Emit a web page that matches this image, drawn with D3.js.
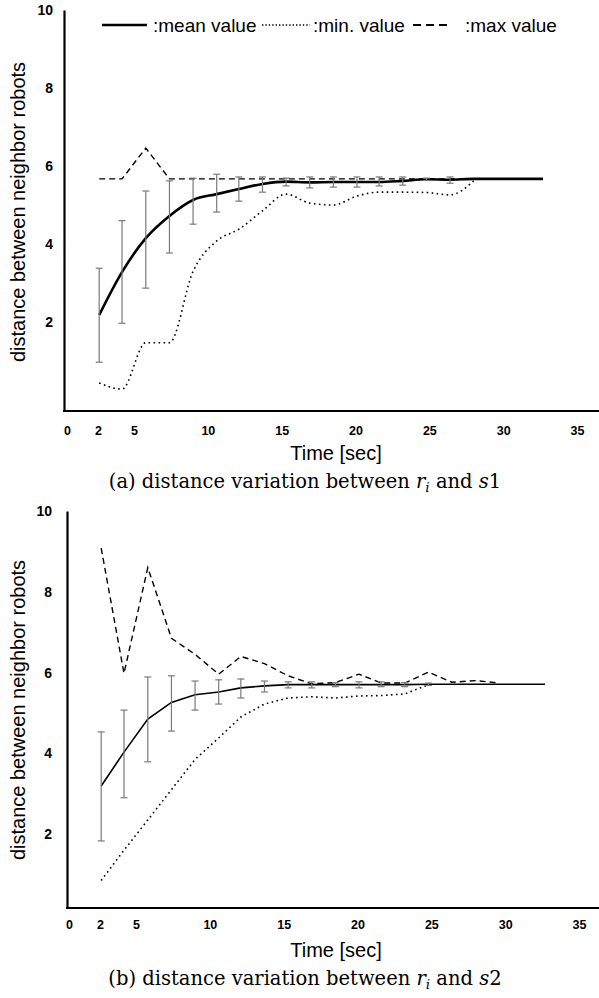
<!DOCTYPE html>
<html>
<head>
<meta charset="utf-8">
<script src="https://cdn.jsdelivr.net/npm/d3@7"></script>
<style>
  body { margin: 0; background: #fff; }
  svg text { font-family: "Liberation Sans", Arial, sans-serif; fill: #000; }
</style>
</head>
<body>
<div id="vis"></div>
<script>
////////////////////////////////////////
/////////////// Data ///////////////////
////////////////////////////////////////

// sample times [sec], shared by both panels
const times = [2.1, 4.0, 5.8, 7.4, 9.0, 10.6, 12.1, 13.7, 15.3, 16.9,
  18.5, 20.1, 21.6, 23.2, 24.8, 26.4, 28.0, 29.6, 31.2, 32.7];

const xTicks = [0, 2, 5, 10, 15, 20, 25, 30, 35];
const yTicks = [2, 4, 6, 8, 10];
const legendLabels = [":mean value", ":min. value", ":max value"];
const xTitle = "Time [sec]";
const yTitle = "distance between neighbor robots";

// (a) r_i and s1
const meanA = [2.18, 3.28, 4.15, 4.72, 5.13, 5.28, 5.41, 5.54, 5.60, 5.58,
  5.59, 5.59, 5.59, 5.62, 5.66, 5.65, 5.67, 5.67, 5.67, 5.67];
const errLoA = [0.97, 1.97, 2.87, 3.77, 4.51, 4.82, 5.10, 5.33, 5.49, 5.44,
  5.46, 5.46, 5.49, 5.51, 5.63, 5.56];
const errHiA = [3.38, 4.60, 5.36, 5.62, 5.69, 5.79, 5.72, 5.72, 5.69, 5.72,
  5.72, 5.72, 5.72, 5.72, 5.69, 5.72];
const minA = [0.44, 0.28, 1.47, 1.47, 3.30, 4.08, 4.38, 4.85, 5.28, 5.05,
  5.00, 5.23, 5.33, 5.33, 5.32, 5.26, 5.62];
const maxA = [5.67, 5.67, 6.46, 5.67, 5.67, 5.67, 5.67, 5.67, 5.67, 5.67,
  5.67, 5.67, 5.67, 5.67, 5.67, 5.67, 5.67];

// (b) r_i and s2
const meanB = [3.19, 4.03, 4.85, 5.26, 5.45, 5.52, 5.62, 5.67, 5.70, 5.70,
  5.70, 5.70, 5.70, 5.70, 5.71, 5.71, 5.71, 5.71, 5.71, 5.71];
const errLoB = [1.83, 2.90, 3.79, 4.55, 5.07, 5.22, 5.37, 5.52, 5.62, 5.62,
  5.65, 5.62, 5.65, 5.65, 5.68];
const errHiB = [4.53, 5.07, 5.89, 5.92, 5.79, 5.82, 5.84, 5.79, 5.77, 5.77,
  5.75, 5.77, 5.77, 5.75, 5.74];
const minB = [0.85, 1.60, 2.35, 3.10, 3.85, 4.38, 4.90, 5.22, 5.37, 5.40,
  5.37, 5.42, 5.43, 5.47, 5.70];
const maxB = [9.08, 5.98, 8.60, 6.85, 6.45, 5.96, 6.40, 6.22, 5.92, 5.72,
  5.75, 5.96, 5.74, 5.74, 6.01, 5.76, 5.80, 5.74];

////////////////////////////////////////
////////////// SVG Setup ///////////////
////////////////////////////////////////

const width = 599;
const height = 998;

const svg = d3
  .select("#vis")
  .append("svg")
  .attr("width", width)
  .attr("height", height)
  .attr("viewBox", `0 0 ${width} ${height}`);

svg.append("rect").attr("width", width).attr("height", height).attr("fill", "#fff");

////////////////////////////////////////
////////////// Panel ///////////////////
////////////////////////////////////////

function panel(series, options) {
  const g = svg.append("g");

  // tick labels were placed unevenly near the origin, so a piecewise scale
  const x = d3
    .scaleLinear()
    .domain([0, 2, 5, 35])
    .range(options.xRange);

  const y = d3
    .scaleLinear()
    .domain(options.yDomain)
    .range(options.yRange);

  const pts = (vals) => vals.map((v, i) => [times[i], v]);

  const line = (curve) =>
    d3
      .line()
      .x((d) => x(d[0]))
      .y((d) => y(d[1]))
      .curve(curve);

  // y axis
  const yAxis = g
    .append("g")
    .attr("transform", `translate(${options.axisX},0)`)
    .call(d3.axisLeft(y).tickValues(yTicks).tickSize(0).tickSizeOuter(0).tickPadding(options.yPad));
  yAxis.select(".domain").attr("stroke", "#000").attr("stroke-width", 2.2);
  yAxis
    .selectAll(".tick text")
    .style("font-size", "14px")
    .style("font-weight", "bold");

  // x axis: labels from the axis, baseline drawn to the right edge
  const xAxis = g
    .append("g")
    .attr("transform", `translate(0,${options.axisY})`)
    .call(d3.axisBottom(x).tickValues(xTicks).tickSize(0).tickPadding(options.xPad));
  xAxis.select(".domain").remove();
  xAxis
    .selectAll(".tick text")
    .style("font-size", "12.5px")
    .style("font-weight", "bold");

  g.append("line")
    .attr("x1", options.axisX - 1)
    .attr("x2", width)
    .attr("y1", options.axisY)
    .attr("y2", options.axisY)
    .attr("stroke", "#000")
    .attr("stroke-width", 2.2);

  // series
  g.append("path")
    .attr("d", line(options.minCurve)(pts(series.min)))
    .attr("fill", "none")
    .attr("stroke", "#000")
    .attr("stroke-width", 1.6)
    .attr("stroke-dasharray", "1.6,3.4");

  g.append("path")
    .attr("d", line(options.maxCurve)(pts(series.max)))
    .attr("fill", "none")
    .attr("stroke", "#000")
    .attr("stroke-width", 1.4)
    .attr("stroke-dasharray", "6,4");

  g.append("path")
    .attr("d", line(options.meanCurve)(pts(series.mean)))
    .attr("fill", "none")
    .attr("stroke", "#000")
    .attr("stroke-width", options.meanWidth);

  // error bars
  const bars = g
    .selectAll(".bar")
    .data(series.lo.map((lo, i) => ({ t: times[i], lo: lo, hi: series.hi[i] })))
    .join("g")
    .attr("class", "bar")
    .attr("stroke", "#7a7a7a")
    .attr("stroke-width", 1.2);

  bars
    .append("line")
    .attr("x1", (d) => x(d.t))
    .attr("x2", (d) => x(d.t))
    .attr("y1", (d) => y(d.lo))
    .attr("y2", (d) => y(d.hi));

  ["lo", "hi"].forEach((k) => {
    bars
      .append("line")
      .attr("x1", (d) => x(d.t) - 3.5)
      .attr("x2", (d) => x(d.t) + 3.5)
      .attr("y1", (d) => y(d[k]))
      .attr("y2", (d) => y(d[k]));
  });

  // titles
  g.append("text")
    .attr("x", 336)
    .attr("y", options.axisY + 49)
    .attr("text-anchor", "middle")
    .style("font-size", "20px")
    .text(xTitle);

  g.append("text")
    .attr("transform", `translate(18,${options.yTitleY}) rotate(-90)`)
    .attr("text-anchor", "middle")
    .attr("dy", "0.35em")
    .style("font-size", "20px")
    .text(yTitle);

  // caption
  const cap = g
    .append("text")
    .attr("x", 305)
    .attr("y", options.axisY + 77)
    .attr("text-anchor", "middle")
    .style("font-family", "'DejaVu Serif', serif")
    .style("font-size", "19.5px");
  cap.append("tspan").text(options.caption + " distance variation between ");
  cap.append("tspan").style("font-style", "italic").text("r");
  cap.append("tspan").style("font-style", "italic").style("font-size", "13.5px").attr("dy", 3.5).text("i");
  cap.append("tspan").attr("dy", -3.5).text(" and ");
  cap.append("tspan").style("font-style", "italic").text("s");
  cap.append("tspan").text(options.sensor);

  return { g: g, x: x, y: y };
}

const a = panel(
  { mean: meanA, lo: errLoA, hi: errHiA, min: minA, max: maxA },
  {
    xRange: [67, 98, 134, 577],
    yDomain: [-0.28, 10],
    yRange: [411, 10],
    axisX: 64,
    axisY: 411,
    xPad: 15,
    yPad: 11,
    yTitleY: 212,
    meanWidth: 2.6,
    meanCurve: d3.curveMonotoneX,
    minCurve: d3.curveMonotoneX,
    maxCurve: d3.curveLinear,
    caption: "(a)",
    sensor: "1",
  }
);

const b = panel(
  { mean: meanB, lo: errLoB, hi: errHiB, min: minB, max: maxB },
  {
    xRange: [69, 100, 136, 579],
    yDomain: [0.17, 10],
    yRange: [908, 511],
    axisX: 67,
    axisY: 908,
    xPad: 12,
    yPad: 15,
    yTitleY: 710,
    meanWidth: 1.6,
    meanCurve: d3.curveLinear,
    minCurve: d3.curveLinear,
    maxCurve: d3.curveLinear,
    caption: "(b)",
    sensor: "2",
  }
);

////////////////////////////////////////
////////////// Legend //////////////////
////////////////////////////////////////

const legendY = 25;
const legendItems = [
  { x1: 102, x2: 147, tx: 153, dash: null, w: 2.4 },
  { x1: 262, x2: 310, tx: 313, dash: "1.4,2", w: 1.4 },
  { x1: 413, x2: 452, tx: 465, dash: "8,5", w: 2 },
];

const legend = svg
  .selectAll(".legend")
  .data(legendItems)
  .join("g")
  .attr("class", "legend");

legend
  .append("line")
  .attr("x1", (d) => d.x1)
  .attr("x2", (d) => d.x2)
  .attr("y1", legendY)
  .attr("y2", legendY)
  .attr("stroke", "#000")
  .attr("stroke-width", (d) => d.w)
  .attr("stroke-dasharray", (d) => d.dash);

legend
  .append("text")
  .attr("x", (d) => d.tx)
  .attr("y", legendY)
  .attr("dy", "0.35em")
  .style("font-size", "19px")
  .text((d, i) => legendLabels[i]);
</script>
</body>
</html>
